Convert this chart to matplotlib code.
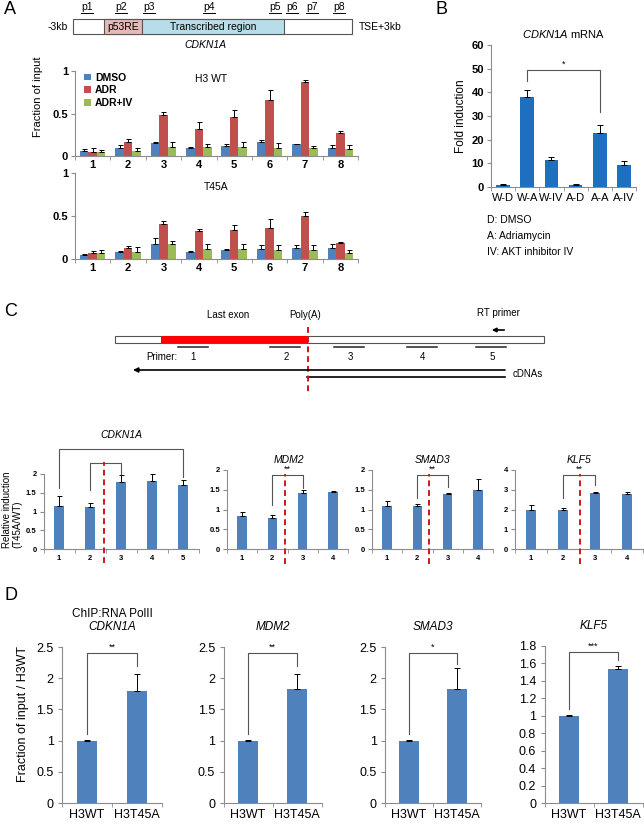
import numpy as np
import matplotlib.pyplot as plt
from matplotlib.patches import Rectangle

plt.rcParams['font.family'] = ['Liberation Sans', 'DejaVu Sans']
plt.rcParams['mathtext.fontset'] = 'custom'
plt.rcParams['mathtext.rm'] = 'Liberation Sans'
plt.rcParams['mathtext.it'] = 'Liberation Sans:italic'

W, H = 644, 827

# ---- panel A: ChIP along CDKN1A (fraction of input) ----
sites = ['1', '2', '3', '4', '5', '6', '7', '8']
treatments = ['DMSO', 'ADR', 'ADR+IV']
wt_dmso = [0.06, 0.09, 0.15, 0.09, 0.12, 0.16, 0.14, 0.10]
wt_dmso_err = [0.02, 0.04, 0.01, 0.02, 0.02, 0.03, 0.005, 0.03]
wt_adr = [0.05, 0.16, 0.48, 0.32, 0.46, 0.66, 0.87, 0.27]
wt_adr_err = [0.04, 0.04, 0.04, 0.08, 0.08, 0.12, 0.02, 0.03]
wt_adriv = [0.05, 0.06, 0.11, 0.105, 0.11, 0.09, 0.09, 0.08]
wt_adriv_err = [0.02, 0.04, 0.05, 0.035, 0.05, 0.06, 0.03, 0.05]

t45a_dmso = [0.05, 0.08, 0.18, 0.085, 0.10, 0.12, 0.13, 0.13]
t45a_dmso_err = [0.01, 0.01, 0.06, 0.005, 0.02, 0.04, 0.03, 0.04]
t45a_adr = [0.07, 0.13, 0.41, 0.32, 0.34, 0.36, 0.50, 0.19]
t45a_adr_err = [0.02, 0.02, 0.03, 0.03, 0.06, 0.10, 0.05, 0.01]
t45a_adriv = [0.07, 0.08, 0.17, 0.12, 0.12, 0.11, 0.105, 0.07]
t45a_adriv_err = [0.03, 0.055, 0.04, 0.05, 0.05, 0.055, 0.06, 0.04]

# ---- panel B: CDKN1A mRNA ----
mrna_labels = ['W-D', 'W-A', 'W-IV', 'A-D', 'A-A', 'A-IV']
mrna_fold = [1.0, 38.1, 11.6, 1.0, 23.0, 9.2]
mrna_err = [0.2, 2.9, 1.1, 0.2, 3.3, 1.6]

# ---- panel C: relative induction per primer ----
cdkn1a_rel = [1.15, 1.13, 1.79, 1.82, 1.70]
cdkn1a_rel_err = [0.26, 0.11, 0.18, 0.17, 0.13]
mdm2_rel = [0.83, 0.79, 1.41, 1.45]
mdm2_rel_err = [0.11, 0.08, 0.09, 0.01]
smad3_rel = [1.09, 1.09, 1.39, 1.49]
smad3_rel_err = [0.13, 0.05, 0.04, 0.27]
klf5_rel = [1.97, 2.0, 2.83, 2.8]
klf5_rel_err = [0.28, 0.1, 0.07, 0.07]

# ---- panel D: RNA PolII ChIP ----
chip_labels = ['H3WT', 'H3T45A']
chip_cdkn1a = [1.0, 1.79]
chip_cdkn1a_err = [0.01, 0.28]
chip_mdm2 = [1.0, 1.82]
chip_mdm2_err = [0.01, 0.25]
chip_smad3 = [1.0, 1.82]
chip_smad3_err = [0.01, 0.34]
chip_klf5 = [1.0, 1.54]
chip_klf5_err = [0.005, 0.03]

BLUE = '#4F81BD'
RED = '#C0504D'
GREEN = '#9BBB59'
AXC = '#8c8c8c'

fig = plt.figure(figsize=(W / 100, H / 100), dpi=100)


def px_axes(x0, y0, x1, y1):
    ax = fig.add_axes([x0 / W, 1 - y1 / H, (x1 - x0) / W, (y1 - y0) / H])
    ax.set_facecolor('none')
    return ax


def style(ax, n, labels, size, bold, ylo, yhi, yticks):
    for s in ['top', 'right']:
        ax.spines[s].set_visible(False)
    for s in ['left', 'bottom']:
        ax.spines[s].set_color(AXC)
        ax.spines[s].set_linewidth(0.8)
    ax.set_xlim(-0.5, n - 0.5)
    ax.set_ylim(ylo, yhi)
    w = 'bold' if bold else 'normal'
    ax.set_xticks(np.arange(n))
    ax.set_xticklabels(labels, fontsize=size, fontweight=w)
    ax.set_xticks(np.arange(n + 1) - 0.5, minor=True)
    ax.set_yticks(yticks)
    ax.set_yticklabels(['%g' % v for v in yticks], fontsize=size, fontweight=w)
    ax.tick_params(axis='x', which='major', length=0, pad=4)
    ax.tick_params(axis='x', which='minor', length=3, color=AXC)
    ax.tick_params(axis='y', length=3, color=AXC, pad=2)


def errs(ax, x, vals, err, cap=2):
    ax.errorbar(x, vals, yerr=[np.zeros(len(err)), err], fmt='none',
                ecolor='black', elinewidth=0.7, capsize=cap, capthick=0.7)


def bracket(ax, x1, x2, y, y1, y2, text, size=6.5):
    ax.plot([x1, x1, x2, x2], [y1, y, y, y2], color='#555555', lw=0.8,
            clip_on=False)
    ax.annotate(text, xy=((x1 + x2) / 2, y), xytext=(0, 1),
                textcoords='offset points', ha='center', va='bottom',
                fontsize=size)


# ---------- panel A charts ----------
xa = np.arange(len(sites))
bw = 0.24
a_sets = [
    (71, 156, wt_dmso, wt_dmso_err, wt_adr, wt_adr_err, wt_adriv, wt_adriv_err, 'H3 WT'),
    (173, 259, t45a_dmso, t45a_dmso_err, t45a_adr, t45a_adr_err, t45a_adriv, t45a_adriv_err, 'T45A'),
]
for i, (top, bot, d, de, a, ae, v, ve, name) in enumerate(a_sets):
    ax = px_axes(75, top, 358, bot)
    style(ax, 8, sites, 8, True, 0, 1, [0, 0.5, 1])
    ax.tick_params(axis='x', which='major', pad=3)
    for off, vals, e, col, lab in [(-bw, d, de, BLUE, 'DMSO'),
                                   (0, a, ae, RED, 'ADR'),
                                   (bw, v, ve, GREEN, 'ADR+IV')]:
        ax.bar(xa + off, vals, bw, color=col, label=lab, zorder=2)
        errs(ax, xa + off, vals, e, cap=1.8)
    if i == 0:
        ax.text(0.48, 0.9, name, transform=ax.transAxes, ha='center',
                va='center', fontsize=7.5)
        ax.legend(loc='upper left', bbox_to_anchor=(0.0, 1.09),
                  frameon=False, handlelength=0.6, handleheight=0.6,
                  handletextpad=0.4, labelspacing=0.25,
                  prop={'weight': 'bold', 'size': 7.5})
    else:
        ax.text(0.5, 0.84, name, transform=ax.transAxes, ha='center',
                va='center', fontsize=7.5)

# ---------- panel B ----------
axb = px_axes(491, 45, 636, 187)
style(axb, 6, mrna_labels, 8, False, 0, 60, [0, 10, 20, 30, 40, 50, 60])
for t in axb.get_yticklabels():
    t.set_fontweight('bold')
xb = np.arange(len(mrna_labels))
axb.bar(xb, mrna_fold, 0.56, color='#1F6FC0', zorder=2)
errs(axb, xb, mrna_fold, mrna_err)
bracket(axb, 1, 4, 49.4, 44.8, 31.8, '*')
axb.set_title(r'$\mathit{CDKN1A}$ mRNA', fontsize=8, pad=5)
axb.set_ylabel('Fold induction', fontsize=8.5, labelpad=3)

# ---------- panel C charts ----------
c_sets = [
    (43.5, 474, 198.5, cdkn1a_rel, cdkn1a_rel_err, 2, [0, 0.5, 1, 1.5, 2], 2.45, 2.32),
    (227, 470, 348, mdm2_rel, mdm2_rel_err, 2, [0, 0.5, 1, 1.5, 2], 2.41, 1.9),
    (372, 470, 493, smad3_rel, smad3_rel_err, 2, [0, 0.5, 1, 1.5, 2], 2.38, 1.9),
    (515, 470, 643, klf5_rel, klf5_rel_err, 4, [0, 1, 2, 3, 4], 2.53, 3.78),
]
c_axes = []
for x0, top, x1, vals, e, ymax, yt, red_x, red_top in c_sets:
    ax = px_axes(x0, top, x1, 549)
    n = len(vals)
    style(ax, n, [str(k + 1) for k in range(n)], 5.5, True, 0, ymax, yt)
    xc = np.arange(n)
    ax.bar(xc, vals, 0.32, color=BLUE, zorder=2)
    errs(ax, xc, vals, e, cap=1.8)
    ax.plot([red_x - 1, red_x - 1], [-0.19 * ymax, red_top], ls=(0, (3, 2)),
            color='#D0171B', lw=1.4, clip_on=False, zorder=3)
    c_axes.append(ax)

ax = c_axes[0]
bracket(ax, 0, 4, 2.68, 1.63, 1.93, '*')
bracket(ax, 1, 2, 2.3, 1.57, 2.0, '**')
ax.text(2, 3.03, 'CDKN1A', style='italic', ha='center', va='center', fontsize=7.5)
ax = c_axes[1]
bracket(ax, 1, 2, 1.88, 1.11, 1.55, '**')
ax.text(1.55, 2.25, 'MDM2', style='italic', ha='center', va='center', fontsize=7.5)
ax = c_axes[2]
bracket(ax, 1, 2, 1.87, 1.29, 1.58, '**')
ax.text(1.5, 2.25, 'SMAD3', style='italic', ha='center', va='center', fontsize=7.5)
ax = c_axes[3]
bracket(ax, 1, 2, 3.75, 2.57, 3.24, '**')
ax.text(1.5, 4.5, 'KLF5', style='italic', ha='center', va='center', fontsize=7.5)
fig.text(12 / W, 1 - 548 / H, 'Relative induction\n(T45A/WT)', rotation=90,
         ha='center', va='bottom', fontsize=7, linespacing=1.05,
         multialignment='left')

# ---------- panel D charts ----------
d_sets = [
    (62, 647, 162, chip_cdkn1a, chip_cdkn1a_err, 2.5, [0, 0.5, 1, 1.5, 2, 2.5],
     'CDKN1A', (2.40, 1.11, 2.19, '**')),
    (223.5, 647, 321.5, chip_mdm2, chip_mdm2_err, 2.5, [0, 0.5, 1, 1.5, 2, 2.5],
     'MDM2', (2.40, 1.11, 2.19, '**')),
    (385, 647, 481, chip_smad3, chip_smad3_err, 2.5, [0, 0.5, 1, 1.5, 2, 2.5],
     'SMAD3', (2.40, 1.11, 2.22, '*')),
    (544.5, 646, 642.5, chip_klf5, chip_klf5_err, 1.8,
     [0, 0.2, 0.4, 0.6, 0.8, 1, 1.2, 1.4, 1.6, 1.8],
     'KLF5', (1.73, 1.08, 1.64, '***')),
]
for x0, top, x1, vals, e, ymax, yt, gene, br in d_sets:
    ax = px_axes(x0, top, x1, 803)
    style(ax, 2, chip_labels, 9, False, 0, ymax, yt)
    ax.tick_params(axis='y', pad=3)
    xd = np.arange(2)
    ax.bar(xd, vals, 0.4, color=BLUE, zorder=2)
    errs(ax, xd, vals, e, cap=2.5)
    bracket(ax, 0, 1, br[0], br[1], br[2], br[3])
    ax.text(0.5, 1 + 20 / (803 - top), gene, transform=ax.transAxes,
            style='italic', ha='center', va='center', fontsize=8.5)
fig.text(112 / W, 1 - 614 / H, 'ChIP:RNA PolII', ha='center', va='center',
         fontsize=8.5)
fig.text(23 / W, 1 - 714 / H, 'Fraction of input / H3WT', rotation=90,
         ha='center', va='center', fontsize=9)

# ---------- overlay: letters, schematics, notes ----------
ov = fig.add_axes([0, 0, 1, 1])
ov.set_xlim(0, W)
ov.set_ylim(H, 0)
ov.axis('off')

for letter, (lx, ly) in {'A': (4, 10), 'B': (436, 9), 'C': (4, 311), 'D': (4, 595)}.items():
    ov.text(lx, ly, letter, fontsize=13, ha='left', va='center')

# A: gene map
ov.add_patch(Rectangle((73, 19), 279, 15, facecolor='white', edgecolor='#555555', lw=0.8))
ov.add_patch(Rectangle((104, 19), 38, 15, facecolor='#E6B9B8', edgecolor='#555555', lw=0.8))
ov.add_patch(Rectangle((142, 19), 142, 15, facecolor='#B7DEE8', edgecolor='#555555', lw=0.8))
ov.text(123, 27, 'p53RE', ha='center', va='center', fontsize=7.5)
ov.text(213, 27, 'Transcribed region', ha='center', va='center', fontsize=7.5)
ov.text(68, 27, '-3kb', ha='right', va='center', fontsize=7.5)
ov.text(359, 27, 'TSE+3kb', ha='left', va='center', fontsize=7.5)
ov.text(205, 45, 'CDKN1A', style='italic', ha='center', va='center', fontsize=7.5)
for k, px in enumerate([87, 121, 149, 209, 275, 292, 312, 339]):
    ov.text(px, 7, 'p%d' % (k + 1), ha='center', va='center', fontsize=7.5)
    ov.plot([px - 6, px + 6], [12.5, 12.5], color='black', lw=0.7)
ov.text(38, 97, 'Fraction of input', rotation=90, ha='center', va='center', fontsize=8)

# B: legend notes
for txt, yy in [('D: DMSO', 220), ('A: Adriamycin', 236), ('IV: AKT inhibitor IV', 252)]:
    ov.text(487, yy, txt, ha='left', va='center', fontsize=7.5)

# C: transcript schematic
ov.text(228, 315, 'Last exon', ha='center', va='center', fontsize=7)
ov.text(305, 315, 'Poly(A)', ha='center', va='center', fontsize=7)
ov.text(498, 313, 'RT primer', ha='center', va='center', fontsize=7)
ov.annotate('', xy=(489, 330), xytext=(507, 330),
            arrowprops=dict(arrowstyle='-|>', color='black', lw=1.2, mutation_scale=6))
ov.add_patch(Rectangle((115, 336), 429, 7, facecolor='white', edgecolor='#555555', lw=0.8))
ov.add_patch(Rectangle((161, 336), 147, 7, facecolor='#FF0000', edgecolor='none'))
for a, b in [(178, 208), (270, 300), (334, 364), (407, 437), (476, 506)]:
    ov.plot([a, b], [347, 347], color='#222222', lw=1.1)
ov.text(162, 357, 'Primer:', ha='center', va='center', fontsize=7)
for lab, px in zip(['1', '2', '3', '4', '5'], [193, 286, 350, 423, 492]):
    ov.text(px, 357, lab, ha='center', va='center', fontsize=7)
ov.annotate('', xy=(133, 370), xytext=(505, 370),
            arrowprops=dict(arrowstyle='-|>', color='black', lw=1.2, mutation_scale=7,
                            shrinkA=0, shrinkB=0))
ov.plot([307, 505], [377, 377], color='black', lw=1.2)
ov.text(513, 374, 'cDNAs', ha='left', va='center', fontsize=7)
ov.plot([308, 308], [327, 392], ls=(0, (3, 2)), color='#D0171B', lw=1.4)

fig.savefig('out.png', dpi=100)
